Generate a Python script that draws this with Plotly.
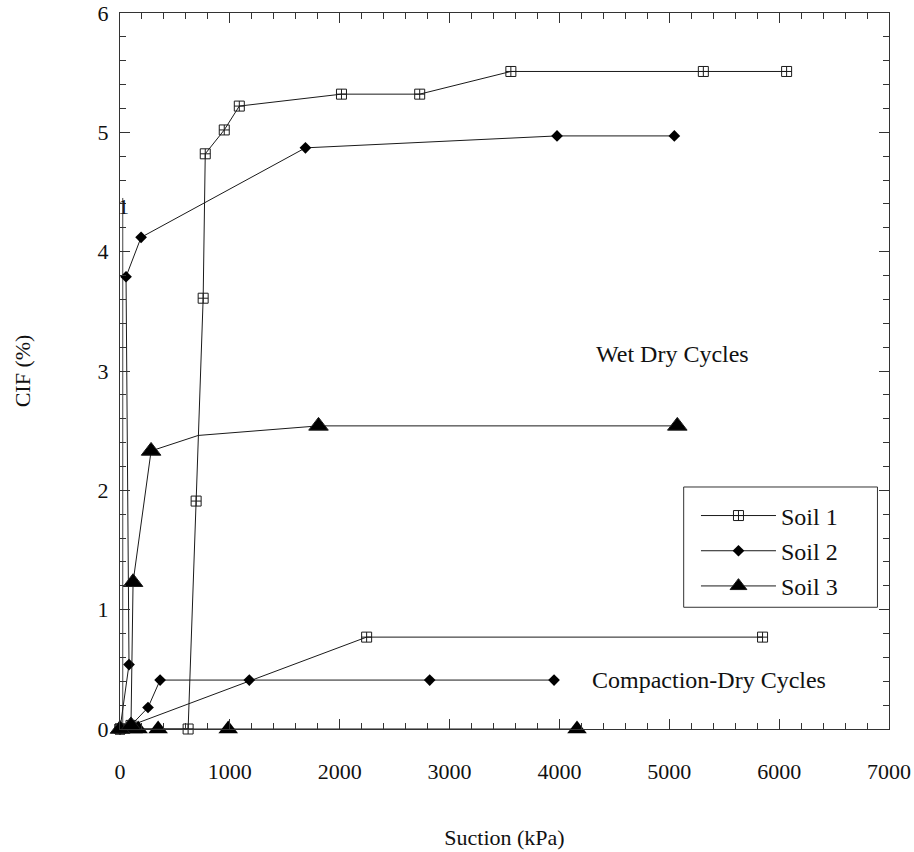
import plotly.graph_objects as go

# ---------------- data ----------------
# Soil 1, wet-dry cycles
s1_wet_x = [0, 620, 693, 757, 776, 949, 1086, 2016, 2728, 3558, 5310, 6068]
s1_wet_y = [0, 0, 1.91, 3.61, 4.82, 5.02, 5.22, 5.32, 5.32, 5.51, 5.51, 5.51]
# Soil 1, compaction-dry cycles
s1_comp_x = [0, 100, 2245, 5849]
s1_comp_y = [0, 0.03, 0.77, 0.77]

# Soil 2, wet-dry cycles
s2_wet_x = [0, 82, 55, 192, 1688, 3978, 5046]
s2_wet_y = [0, 0.54, 3.79, 4.12, 4.87, 4.97, 4.97]
# Soil 2, compaction-dry cycles
s2_comp_x = [0, 100, 255, 365, 1177, 2819, 3951]
s2_comp_y = [0, 0.03, 0.18, 0.41, 0.41, 0.41, 0.41]

# Soil 3, wet-dry cycles (5th vertex has no visible marker)
s3_wet_x = [0, 100, 119, 283, 712, 1807, 5073]
s3_wet_y = [0, 0.03, 1.23, 2.33, 2.46, 2.54, 2.54]
s3_wet_marker = [1, 1, 1, 1, 0, 1, 1]
# Soil 3, compaction-dry cycles
s3_comp_x = [119, 165, 347, 985, 4160]
s3_comp_y = [0, 0, 0, 0, 0]

# stray vertical stroke near the axis (with the "1" label)
stray_x = [25, 25]
stray_y = [0, 4.45]

legend_names = ["Soil 1", "Soil 2", "Soil 3"]
x_tick_vals = [0, 1000, 2000, 3000, 4000, 5000, 6000, 7000]
y_tick_vals = [0, 1, 2, 3, 4, 5, 6]

# ---------------- styles ----------------
INK = "#111111"
LINE = dict(color="#1a1a1a", width=1)
FONT = "Liberation Serif, DejaVu Serif, serif"

sq = dict(symbol="square-cross-open", size=10, color="#1a1a1a", opacity=1,
          line=dict(color="#1a1a1a", width=1))
dm = dict(symbol="diamond", size=9, color="#000000", opacity=1)
tr = dict(symbol="triangle-up", size=17, color="#000000", opacity=1)

fig = go.Figure()

fig.add_trace(go.Scatter(x=stray_x, y=stray_y, mode="lines",
                         line=dict(color="#444444", width=1),
                         showlegend=False, hoverinfo="skip"))

fig.add_trace(go.Scatter(x=s1_comp_x, y=s1_comp_y, mode="lines+markers",
                         line=LINE, marker=sq, showlegend=False, cliponaxis=False))
fig.add_trace(go.Scatter(x=s2_comp_x, y=s2_comp_y, mode="lines+markers",
                         line=LINE, marker=dm, showlegend=False, cliponaxis=False))
fig.add_trace(go.Scatter(x=s3_comp_x, y=s3_comp_y, mode="lines+markers",
                         line=LINE, marker=tr, showlegend=False, cliponaxis=False))

fig.add_trace(go.Scatter(x=s1_wet_x, y=s1_wet_y, mode="lines+markers",
                         name=legend_names[0], legendgroup="g1",
                         line=LINE, marker=sq, cliponaxis=False))
fig.add_trace(go.Scatter(x=s2_wet_x, y=s2_wet_y, mode="lines+markers",
                         name=legend_names[1], legendgroup="g2",
                         line=LINE, marker=dm, cliponaxis=False))
tr_var = dict(tr)
tr_var["size"] = [17 * m for m in s3_wet_marker]
fig.add_trace(go.Scatter(x=s3_wet_x, y=s3_wet_y, mode="lines+markers",
                         name=legend_names[2], legendgroup="g3",
                         line=LINE, marker=tr_var, cliponaxis=False))

axis_common = dict(
    showgrid=False, zeroline=False, showline=True, linecolor="#333333",
    linewidth=1, mirror="allticks", ticks="inside", tickcolor="#333333",
    tickfont=dict(family=FONT, size=22, color=INK), automargin=False,
)

fig.update_xaxes(
    range=[0, 7000], tickvals=x_tick_vals, ticklen=10,
    ticklabelstandoff=23,
    minor=dict(dtick=200, ticks="inside", ticklen=6, tickcolor="#333333", showgrid=False),
    title=dict(text="Suction (kPa)", font=dict(family=FONT, size=22, color=INK),
               standoff=46),
    **axis_common,
)
fig.update_yaxes(
    range=[0, 6], tickvals=y_tick_vals, ticklen=10,
    ticklabelstandoff=6,
    minor=dict(dtick=0.2, ticks="inside", ticklen=6, tickcolor="#333333", showgrid=False),
    title=dict(text="CIF (%)", font=dict(family=FONT, size=22, color=INK),
               standoff=60),
    **axis_common,
)

fig.add_annotation(x=5027, y=3.14, text="Wet Dry Cycles", showarrow=False,
                   font=dict(family=FONT, size=24, color=INK))
fig.add_annotation(x=5365, y=0.41, text="Compaction-Dry Cycles", showarrow=False,
                   font=dict(family=FONT, size=24, color=INK))
fig.add_annotation(x=30, y=4.38, text="1", showarrow=False,
                   font=dict(family=FONT, size=22, color=INK))

# legend frame (paper coordinates of the box in the reference)
fig.add_shape(type="rect", xref="paper", yref="paper",
              x0=0.733, x1=0.985, y0=0.170, y1=0.338,
              line=dict(color="#333333", width=1), fillcolor="rgba(0,0,0,0)", layer="above")

fig.update_layout(
    width=914, height=852,
    margin=dict(l=120, r=25, t=13, b=123, autoexpand=False),
    paper_bgcolor="white", plot_bgcolor="white",
    legend=dict(x=0.749, y=0.329, xanchor="left", yanchor="top",
                borderwidth=0, bgcolor="rgba(0,0,0,0)",
                font=dict(family=FONT, size=24, color=INK),
                itemwidth=75, tracegroupgap=1),
)

fig.write_html("out.html")
